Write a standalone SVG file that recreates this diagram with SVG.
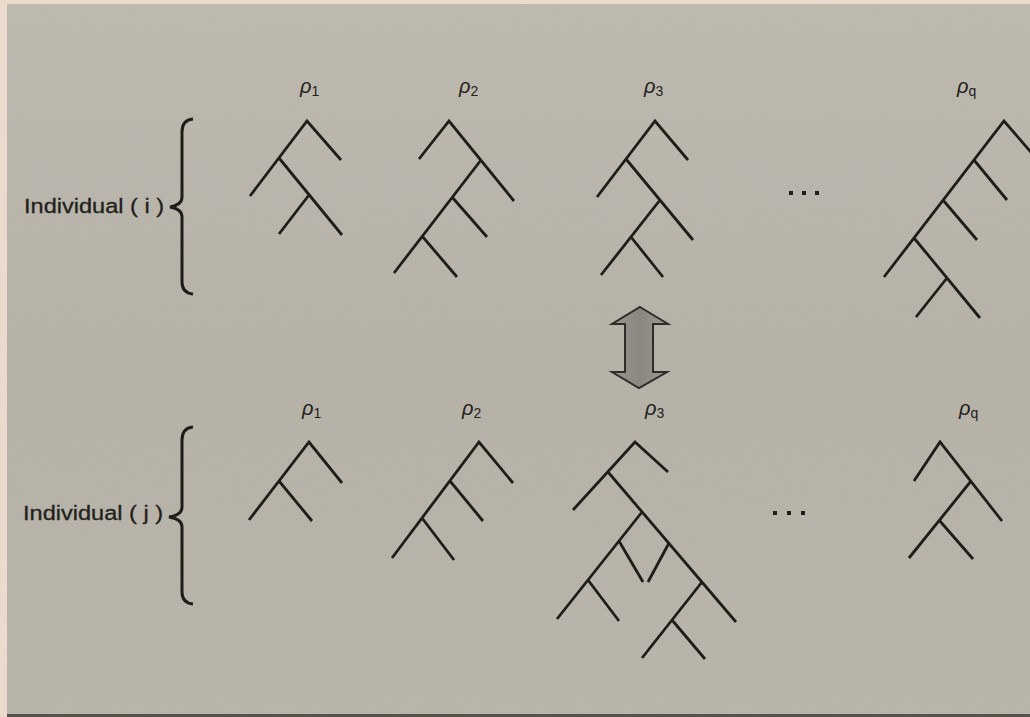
<svg xmlns="http://www.w3.org/2000/svg" width="1030" height="717" viewBox="0 0 1030 717">
<defs>
<style>
.t{fill:none;stroke:#1e1e19;stroke-width:2.8;stroke-linecap:butt;stroke-linejoin:miter}
.br{fill:none;stroke:#1e1e19;stroke-width:3}
.lab{font-family:"Liberation Sans",Arial,sans-serif;font-size:20px;fill:#22221c;stroke:#22221c;stroke-width:0.3}
.rho{font-family:"Liberation Sans",Arial,sans-serif;font-size:20px;font-style:italic;fill:#22221c}
.sub{font-size:14px;font-style:normal}
.dot{fill:#1e1e19}
</style>
<linearGradient id="bg" x1="0" y1="0" x2="0" y2="1">
<stop offset="0" stop-color="#bfbab0"/>
<stop offset="0.5" stop-color="#b7b2a8"/>
<stop offset="1" stop-color="#bab5ab"/>
</linearGradient>
<linearGradient id="arr" x1="0" y1="0" x2="1" y2="0">
<stop offset="0" stop-color="#9a9790"/>
<stop offset="0.5" stop-color="#8a8781"/>
<stop offset="1" stop-color="#9d9a93"/>
</linearGradient>
<filter id="noise" x="0" y="0" width="100%" height="100%">
<feTurbulence type="fractalNoise" baseFrequency="0.9" numOctaves="2" seed="3" result="n"/>
<feColorMatrix type="matrix" values="0 0 0 0 0.45  0 0 0 0 0.43  0 0 0 0 0.40  0 0 0 0.35 0" />
</filter>
</defs>
<rect width="1030" height="717" fill="#ebdbcd"/>
<rect x="7" y="4" width="1023" height="711" fill="url(#bg)"/>
<rect x="7" y="4" width="1023" height="711" filter="url(#noise)" opacity="0.5"/>
<rect x="7" y="714" width="1023" height="3" fill="#55524b"/>

<g id="label-i">
<text class="lab" x="24" y="213" textLength="140" lengthAdjust="spacingAndGlyphs">Individual ( i )</text>
<path class="br" d="M193,119 Q182,120 182,132 L182,197 Q182,205 170,207 Q182,209 182,217 L182,282 Q182,293 193,294"/>
</g>
<g id="label-j">
<text class="lab" x="23" y="520" textLength="140" lengthAdjust="spacingAndGlyphs">Individual ( j )</text>
<path class="br" d="M193,427 Q182,428 182,440 L182,507 Q182,515 169,517 Q182,519 182,527 L182,592 Q182,603 193,604"/>
</g>

<g id="tree-i-1">
<text class="rho" x="300" y="93">ρ<tspan class="sub" dy="3">1</tspan></text>
<path class="t" d="M341,160 L307,121 L250,196 M279,158 L342,235 M309,195 L279,234"/>
</g>
<g id="tree-i-2">
<text class="rho" x="459" y="93">ρ<tspan class="sub" dy="3">2</tspan></text>
<path class="t" d="M419,159 L449,121 L514,201 M481,160 L394,273 M452,197 L487,237 M422,236 L457,277"/>
</g>
<g id="tree-i-3">
<text class="rho" x="644" y="93">ρ<tspan class="sub" dy="3">3</tspan></text>
<path class="t" d="M688,160 L655,121 L597,197 M626,159 L693,240 M660,200 L601,275 M631,237 L663,277"/>
</g>
<g id="dots-i">
<rect class="dot" x="789" y="191" width="4" height="4"/>
<rect class="dot" x="802" y="191" width="4" height="4"/>
<rect class="dot" x="815" y="191" width="4" height="4"/>
</g>
<g id="tree-i-q">
<text class="rho" x="957" y="93">ρ<tspan class="sub" dy="3">q</tspan></text>
<path class="t" d="M1036,158 L1004,121 L884,277 M974,160 L1007,200 M943,200 L977,240 M914,238 L980,318 M947,278 L916,317"/>
</g>

<g id="swap-arrow">
<polygon points="640,307 668,324 653,324 653,372 667,372 639,388 612,372 625,372 625,324 612,324" fill="url(#arr)" stroke="#2e2d29" stroke-width="2" stroke-linejoin="miter"/>
</g>

<g id="tree-j-1">
<text class="rho" x="302" y="415">ρ<tspan class="sub" dy="3">1</tspan></text>
<path class="t" d="M342,483 L309,442 L249,520 M279,481 L312,521"/>
</g>
<g id="tree-j-2">
<text class="rho" x="462" y="415">ρ<tspan class="sub" dy="3">2</tspan></text>
<path class="t" d="M513,483 L479,442 L392,558 M450,481 L483,521 M422,518 L454,560"/>
</g>
<g id="tree-j-3">
<text class="rho" x="645" y="415">ρ<tspan class="sub" dy="3">3</tspan></text>
<path class="t" d="M668,472 L635,442 L573,510 M608,472 L736,622 M642,512 L557,619 M619,541 L643,582 M588,580 L619,621 M669,543 L648,582 M702,582 L642,658 M672,620 L705,659"/>
</g>
<g id="dots-j">
<rect class="dot" x="773" y="511" width="4" height="4"/>
<rect class="dot" x="787" y="511" width="4" height="4"/>
<rect class="dot" x="801" y="511" width="4" height="4"/>
</g>
<g id="tree-j-q">
<text class="rho" x="959" y="415">ρ<tspan class="sub" dy="3">q</tspan></text>
<path class="t" d="M914,481 L940,442 L1002,521 M971,481 L909,558 M939,520 L973,559"/>
</g>
<g id="connectors"></g>
</svg>
